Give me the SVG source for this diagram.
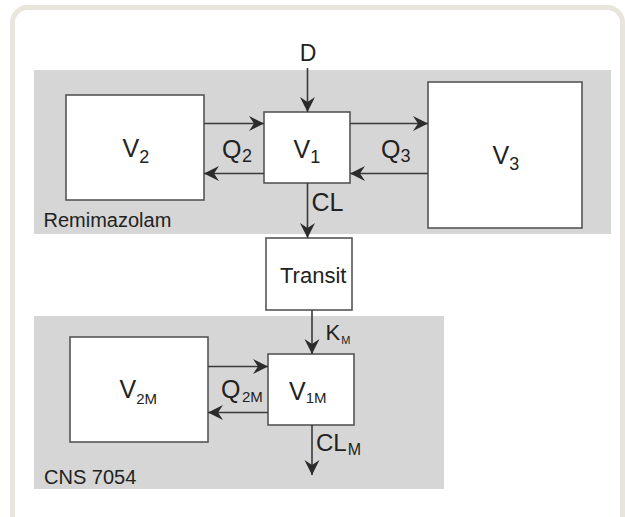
<svg xmlns="http://www.w3.org/2000/svg" width="625" height="517" viewBox="0 0 625 517">
  <defs>
    <marker id="ah" markerUnits="userSpaceOnUse" markerWidth="18" markerHeight="18" viewBox="-16 -9 18 18" refX="0" refY="0" orient="auto">
      <path d="M0,0 L-15,-7.5 L-10,0 L-15,7.5 Z" fill="#2b2b2b"/>
    </marker>
  </defs>
  <style>
    .frame { fill: #ffffff; stroke: #e8e5dc; stroke-width: 5; }
    .band { fill: #d6d6d6; }
    .box { fill: #ffffff; stroke: #555555; stroke-width: 1.6; }
    .lbl { font-family: "Liberation Sans", Arial, sans-serif; fill: #222222; }
    .big { font-size: 25px; }
    .cap { font-size: 20px; }
    .edge { stroke: #3a3a3a; stroke-width: 1.6; fill: none; marker-end: url(#ah); }
  </style>
  <rect width="625" height="517" fill="#ffffff"/>
  <rect class="frame" x="12.5" y="7.5" width="610" height="540" rx="15" ry="15"/>

  <g id="remimazolam">
    <rect class="band" x="34" y="70" width="577" height="164"/>
    <text class="lbl cap" x="43.5" y="227">Remimazolam</text>
  </g>
  <g id="cns7054">
    <rect class="band" x="34" y="316" width="410" height="173"/>
    <text class="lbl cap" x="44" y="484">CNS 7054</text>
  </g>

  <g id="V2">
    <rect class="box" x="66" y="95" width="138" height="105"/>
    <text class="lbl big" x="122.5" y="157">V<tspan font-size="18" dy="5.5">2</tspan></text>
  </g>
  <g id="V1">
    <rect class="box" x="264" y="112" width="86" height="71"/>
    <text class="lbl big" x="293.5" y="157.5">V<tspan font-size="18" dy="5">1</tspan></text>
  </g>
  <g id="V3">
    <rect class="box" x="428" y="82" width="154" height="146"/>
    <text class="lbl big" x="492.5" y="164">V<tspan font-size="18" dy="6">3</tspan></text>
  </g>
  <g id="Transit">
    <rect class="box" x="266" y="238" width="86" height="72"/>
    <text class="lbl" font-size="22" x="280" y="283">Transit</text>
  </g>
  <g id="V2M">
    <rect class="box" x="70" y="337" width="138" height="105"/>
    <text class="lbl big" x="119.5" y="398">V<tspan font-size="15" dy="5.5">2M</tspan></text>
  </g>
  <g id="V1M">
    <rect class="box" x="268" y="354" width="86" height="71"/>
    <text class="lbl big" x="289" y="399.5">V<tspan font-size="15" dy="3.5">1M</tspan></text>
  </g>

  <g id="connectors">
    <line class="edge" x1="307.5" y1="68" x2="307.5" y2="112"/>
    <line class="edge" x1="204" y1="123.5" x2="264" y2="123.5"/>
    <line class="edge" x1="264" y1="173.5" x2="204" y2="173.5"/>
    <line class="edge" x1="350" y1="123.5" x2="428" y2="123.5"/>
    <line class="edge" x1="428" y1="173.5" x2="350" y2="173.5"/>
    <line class="edge" x1="307.5" y1="183" x2="307.5" y2="238"/>
    <line class="edge" x1="312" y1="310" x2="312" y2="354"/>
    <line class="edge" x1="208" y1="366.5" x2="268" y2="366.5"/>
    <line class="edge" x1="268" y1="412.5" x2="208" y2="412.5"/>
    <line class="edge" x1="312" y1="425" x2="312" y2="475"/>

    <text class="lbl" font-size="23" x="308" y="61" text-anchor="middle">D</text>
    <text class="lbl big" x="222" y="157.5">Q<tspan font-size="18" dx="0.5" dy="4.5">2</tspan></text>
    <text class="lbl big" x="381" y="157.5">Q<tspan font-size="18" dx="0" dy="4.5">3</tspan></text>
    <text class="lbl big" x="311.5" y="210.5">CL</text>
    <text class="lbl" font-size="22" x="325.5" y="339.5">K<tspan font-size="11" dx="1" dy="4">M</tspan></text>
    <text class="lbl big" x="221" y="397.5">Q<tspan font-size="15" dx="1.5" dy="4.5">2M</tspan></text>
    <text class="lbl" font-size="24" x="316" y="450.5">CL<tspan font-size="16" dx="1" dy="4">M</tspan></text>
  </g>
</svg>
